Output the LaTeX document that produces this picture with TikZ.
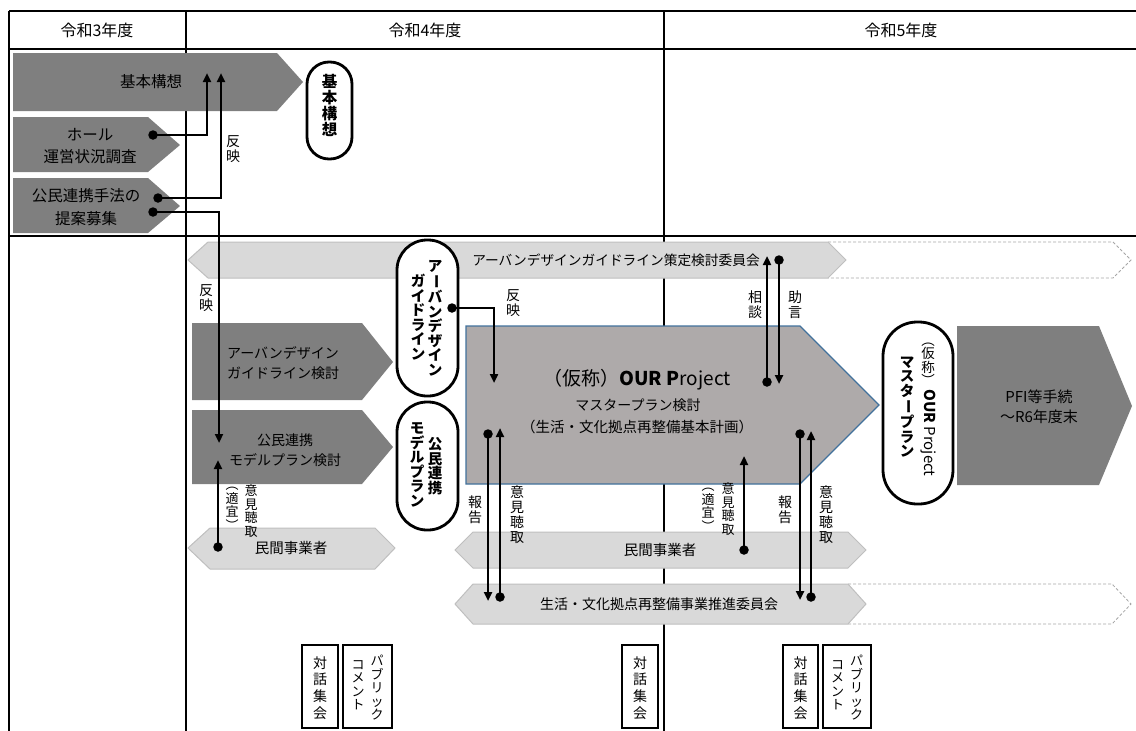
\documentclass[tikz,border=0pt]{standalone}
\usepackage{fontspec}
\setmainfont{Noto Sans CJK JP}
\usepackage{graphicx}
\usetikzlibrary{arrows.meta}
\definecolor{dkg}{HTML}{7F7F7F}
\definecolor{ltg}{HTML}{D9D9D9}
\definecolor{ltb}{HTML}{BFBFBF}
\definecolor{midg}{HTML}{AEAAAA}
\definecolor{blu}{HTML}{41719C}
\definecolor{dsh}{HTML}{A6A6A6}
\newcommand\VB{\rotatebox[origin=c]{-90}{ー}}
\tikzset{
 tbl/.style={line width=2.8pt},
 dkshape/.style={fill=dkg},
 ltshape/.style={fill=ltg, draw=ltb, line width=1pt},
 dshshape/.style={draw=dsh, line width=0.8pt, dash pattern=on 3pt off 2pt},
 pill/.style={draw, line width=2.8pt, fill=white, inner sep=0pt},
 smallbox/.style={draw, line width=1.1pt, fill=white, inner sep=0pt},
 conn/.style={line width=2.5pt, -{Triangle[length=9pt,width=8pt]}},
 dotnode/.style={circle, fill=black, inner sep=0pt, minimum size=9.5pt},
 txt/.style={inner sep=0pt, align=center},
 vt/.style={inner sep=0pt, align=center, font=\fontsize{14}{15}\selectfont},
 vts/.style={inner sep=0pt, align=center, font=\fontsize{13}{13.5}\selectfont},
 fA/.style={font=\fontsize{15.5}{22.5}\selectfont},
 fB/.style={font=\fontsize{14}{20}\selectfont},
 fM/.style={font=\fontsize{14.5}{16}\selectfont},
 fH/.style={font=\fontsize{16}{18}\selectfont},
 pbold/.style={inner sep=0pt, align=center, font=\fontsize{14.5}{14.5}\selectfont\bfseries},
 fT/.style={inner sep=0pt, align=center, font=\fontsize{14}{16.7}\selectfont},
}
\begin{document}
\begin{tikzpicture}[x=1pt,y=-1pt]
\useasboundingbox (0,0) rectangle (1136,731);
% ---- table ----
\draw[tbl] (9,11) -- (1136,11);
\draw[tbl] (9,49) -- (1136,49);
\draw[tbl] (9,236) -- (1136,236);
\draw[tbl] (9,11) -- (9,731);
\draw[tbl] (186,11) -- (186,731);
\draw[tbl] (664,11) -- (664,731);
\node[txt,fH] (h3) at (97,30) {令和3年度};
\node[txt,fH] (h4) at (425,30) {令和4年度};
\node[txt,fH] (h5) at (901,30) {令和5年度};
% ---- row 1 ----
\fill[dkshape] (13,53) -- (277,53) -- (303,82) -- (277,111) -- (13,111) -- cycle;
\node[txt,fA] (a1) at (151,82) {基本構想};
\fill[dkshape] (13,117) -- (148,117) -- (180,145) -- (148,172) -- (13,172) -- cycle;
\node[txt,fA] (a2) at (90,146) {ホール\\運営状況調査};
\fill[dkshape] (13,178) -- (148,178) -- (180,206) -- (148,233) -- (13,233) -- cycle;
\node[txt,fA] (a3) at (86,207) {公民連携手法の\\提案募集};
\node[pill, minimum width=45pt, minimum height=97pt, rounded corners=22pt] (p1) at (329.5,110.5) {};
\node[inner sep=0pt, align=center, font=\fontsize{15.5}{16}\selectfont\bfseries] (p1t) at (329.5,105) {基\\本\\構\\想};
% ---- row 2 ----
\draw[dshshape] (828,242) -- (1113,242) -- (1131,260) -- (1113,278) -- (828,278);
\draw[ltshape] (188,260) -- (208,242) -- (828,242) -- (846,260) -- (828,278) -- (208,278) -- cycle;
\node[txt, font=\fontsize{13.7}{16}\selectfont] (u1) at (616,260) {アーバンデザインガイドライン策定検討委員会};
\fill[dkshape] (192,323) -- (362,323) -- (393,362) -- (362,400) -- (192,400) -- cycle;
\node[txt,fB] (b1) at (283,363) {アーバンデザイン\\ガイドライン検討};
\fill[dkshape] (192,410) -- (362,410) -- (393,447) -- (362,484) -- (192,484) -- cycle;
\node[txt,fB] (b2) at (285,450) {公民連携\\モデルプラン検討};
\node[pill, minimum width=61pt, minimum height=156pt, rounded corners=30pt] (p2) at (427.5,318) {};
\node[pbold] (p2r) at (435,318) {ア\\\VB\\バ\\ン\\デ\\ザ\\イ\\ン};
\node[pbold] (p2l) at (418,317) {ガ\\イ\\ド\\ラ\\イ\\ン};
\node[pill, minimum width=61pt, minimum height=128pt, rounded corners=30pt] (p3) at (427.5,466) {};
\node[pbold] (p3r) at (435,466) {公\\民\\連\\携};
\node[pbold] (p3l) at (417,465) {モ\\デ\\ル\\プ\\ラ\\ン};
% big master plan shape
\draw[fill=midg, draw=blu, line width=1.2pt] (466,326) -- (800,326) -- (879,405) -- (800,484) -- (466,484) -- cycle;
\node[txt, font=\fontsize{19}{22}\selectfont] (m1) at (637,380) {（仮称）\textbf{OUR P}roject};
\node[txt, font=\fontsize{14}{16}\selectfont] (m2) at (638,405) {マスタープラン検討};
\node[txt, font=\fontsize{14.5}{16}\selectfont] (m3) at (637,427) {（生活・文化拠点再整備基本計画）};
% master plan pill
\node[pill, minimum width=70pt, minimum height=182pt, rounded corners=34pt] (p4) at (918,413) {};
\node[inner sep=0pt, align=center, font=\fontsize{13.5}{13.5}\selectfont] (p4a) at (928,364) {︵\\仮\\称\\︶};
\node[inner sep=0pt, rotate=-90, font=\fontsize{15}{16}\selectfont] (p4b) at (928,433) {\textbf{OUR} Project};
\node[pbold] (p4c) at (907,407) {マ\\ス\\タ\\\VB\\プ\\ラ\\ン};
% PFI
\fill[dkshape] (957,326) -- (1099,326) -- (1132,406) -- (1099,485) -- (957,485) -- cycle;
\node[txt, font=\fontsize{15}{20}\selectfont] (pfi) at (1039,407) {PFI等手続\\～R6年度末};
% lower bars
\draw[ltshape] (188,548) -- (210,528) -- (375,528) -- (395,548) -- (375,569) -- (210,569) -- cycle;
\node[txt,fM] (l1) at (291,548) {民間事業者};
\draw[ltshape] (455,550) -- (473,532) -- (848,532) -- (866,550) -- (848,568) -- (473,568) -- cycle;
\node[txt,fM] (l2) at (660,550) {民間事業者};
\draw[dshshape] (848,584) -- (1112,584) -- (1131,604) -- (1112,624) -- (848,624);
\draw[ltshape] (455,604) -- (473,584) -- (848,584) -- (866,604) -- (848,624) -- (473,624) -- cycle;
\node[txt, font=\fontsize{14}{16}\selectfont] (l3) at (659,604) {生活・文化拠点再整備事業推進委員会};
% bottom boxes
\node[smallbox, minimum width=36pt, minimum height=83pt] (r1) at (320,686.5) {};
\node[fT] (r1t) at (320,688) {対\\話\\集\\会};
\node[smallbox, minimum width=49pt, minimum height=83pt] (r2) at (367.5,686.5) {};
\node[vts] (r2a) at (377,688) {パ\\ブ\\リ\\ッ\\ク};
\node[vts] (r2b) at (358,685) {コ\\メ\\ン\\ト};
\node[smallbox, minimum width=36pt, minimum height=83pt] (r3) at (640,686.5) {};
\node[fT] (r3t) at (640,688) {対\\話\\集\\会};
\node[smallbox, minimum width=35pt, minimum height=83pt] (r4) at (800.5,686.5) {};
\node[fT] (r4t) at (800.5,688) {対\\話\\集\\会};
\node[smallbox, minimum width=48pt, minimum height=83pt] (r5) at (847,686.5) {};
\node[vts] (r5a) at (856.5,688) {パ\\ブ\\リ\\ッ\\ク};
\node[vts] (r5b) at (837.5,685) {コ\\メ\\ン\\ト};
% ---- connectors ----
\node[dotnode] (d1) at (153,135) {};
\coordinate (t1) at (207,73);
\draw[conn] (d1.center) -| (t1);
\node[dotnode] (d2) at (158,198) {};
\coordinate (t2) at (221,73);
\draw[conn] (d2.center) -| (t2);
\node[dotnode] (d3) at (153,212) {};
\coordinate (t3) at (219,443);
\draw[conn] (d3.center) -| (t3);
\node[dotnode] (d4) at (452,308) {};
\coordinate (t4) at (494,383);
\draw[conn] (d4.center) -| (t4);
\node[dotnode] (d5) at (767,382) {};
\coordinate (t5) at (767,256);
\draw[conn] (d5.center) -- (t5);
\node[dotnode] (d6) at (779,260) {};
\coordinate (t6) at (779,384);
\draw[conn] (d6.center) -- (t6);
\node[dotnode] (d7) at (488,434) {};
\coordinate (t7) at (488,601);
\draw[conn] (d7.center) -- (t7);
\node[dotnode] (d8) at (500,597) {};
\coordinate (t8) at (500,428);
\draw[conn] (d8.center) -- (t8);
\node[dotnode] (d9) at (744,550) {};
\coordinate (t9) at (744,456);
\draw[conn] (d9.center) -- (t9);
\node[dotnode] (d10) at (800,434) {};
\coordinate (t10) at (800,600);
\draw[conn] (d10.center) -- (t10);
\node[dotnode] (d11) at (811,597) {};
\coordinate (t11) at (811,431);
\draw[conn] (d11.center) -- (t11);
\node[dotnode] (d12) at (218,547) {};
\coordinate (t12) at (218,460);
\draw[conn] (d12.center) -- (t12);
% ---- labels ----
\node[vt] (lb1) at (233,149) {反\\映};
\node[vt] (lb2) at (206,298) {反\\映};
\node[vt] (lb3) at (513,303) {反\\映};
\node[vt] (lb4) at (755,305) {相\\談};
\node[vt] (lb5) at (795,305) {助\\言};
\node[vt] (lb6) at (475,510) {報\\告};
\node[vt] (lb7) at (517,515) {意\\見\\聴\\取};
\node[vts] (lb8) at (708,510) {︵\\適\\宜\\︶};
\node[vts] (lb9) at (728,509) {意\\見\\聴\\取};
\node[vt] (lb10) at (785,510) {報\\告};
\node[vt] (lb11) at (826,515) {意\\見\\聴\\取};
\node[vts] (lb12) at (232,509) {︵\\適\\宜\\︶};
\node[vts] (lb13) at (251,511) {意\\見\\聴\\取};
\end{tikzpicture}
\end{document}
